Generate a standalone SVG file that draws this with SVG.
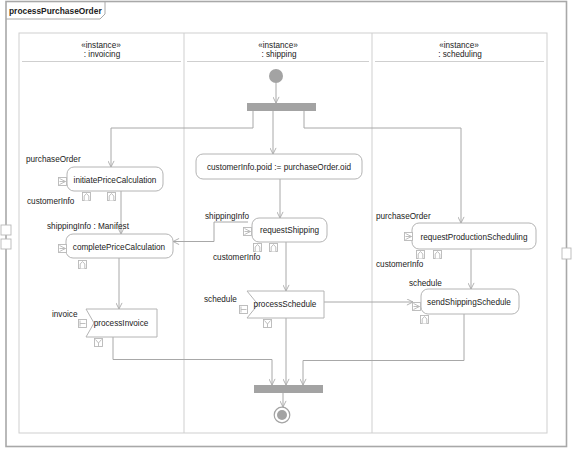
<svg xmlns="http://www.w3.org/2000/svg" xmlns:xlink="http://www.w3.org/1999/xlink" width="572" height="449" viewBox="0 0 572 449">
<style>
text{font-family:"Liberation Sans",Arial,sans-serif;font-size:8.2px;fill:#222}
.c{text-anchor:middle}
.node{fill:#fff;stroke:#b4b4b4;stroke-width:1}
.part{fill:none;stroke:#cfcfcf;stroke-width:1}
.conn{fill:none;stroke:#a8a8a8;stroke-width:1}
.pin{fill:#fff;stroke:#b8b8b8;stroke-width:0.9}
.bar{fill:#a3a3a3}
</style>
<defs>
<marker id="arr" viewBox="0 0 8 8" refX="7.5" refY="4" markerWidth="7" markerHeight="7" markerUnits="userSpaceOnUse" orient="auto">
<path d="M0.5,0.5 L7.5,4 L0.5,7.5" fill="none" stroke="#a8a8a8" stroke-width="1"/>
</marker>
<g id="pinL"><rect class="pin" x="0.5" y="0.5" width="8" height="8"/><path class="pin" fill="none" d="M1.5,1.5 L7.5,4.5 L1.5,7.5 M1.5,4.5 H7.5"/></g>
<g id="pinB"><rect class="pin" x="0.5" y="0.5" width="8" height="8"/><path class="pin" fill="none" d="M2.2,8.5 V4 L4.5,1.5 L6.8,4 V8.5"/></g>
<g id="pinAL"><rect class="pin" x="0.5" y="0.5" width="8" height="8"/><path class="pin" fill="none" d="M2,1.5 V7.5 M2,4.5 H7.5"/></g>
<g id="pinAB"><rect class="pin" x="0.5" y="0.5" width="8" height="8"/><path class="pin" fill="none" d="M1.5,1.5 L4.5,5 L7.5,1.5 M4.5,5 V8.5"/></g>
</defs>
<rect width="572" height="449" fill="#fff"/>

<g id="frame">
<rect x="6" y="1.5" width="560.5" height="445" fill="none" stroke="#a8a8a8" stroke-width="1.6"/>
<path d="M6,19 H100 L105,14 V1.5" fill="none" stroke="#a8a8a8" stroke-width="1"/>
<text x="9" y="14" style="font-weight:bold;font-size:8.4px">processPurchaseOrder</text>
</g>

<g id="partitions">
<rect class="part" x="19" y="33" width="528" height="400"/>
<line class="part" x1="184" y1="33" x2="184" y2="433"/>
<line class="part" x1="372" y1="33" x2="372" y2="433"/>
<line class="part" x1="22" y1="61.5" x2="181" y2="61.5"/>
<line class="part" x1="187" y1="61.5" x2="369" y2="61.5"/>
<line class="part" x1="375" y1="61.5" x2="544" y2="61.5"/>
<text class="c" x="101" y="47.5">«instance»</text>
<text class="c" x="102" y="56.5">: invoicing</text>
<text class="c" x="278" y="47.5">«instance»</text>
<text class="c" x="279" y="56.5">: shipping</text>
<text class="c" x="459" y="47.5">«instance»</text>
<text class="c" x="460" y="56.5">: scheduling</text>
</g>

<g id="param-left-1"><rect class="pin" x="1" y="225" width="10" height="10"/></g>
<g id="param-left-2"><rect class="pin" x="1" y="239" width="10" height="10"/></g>
<g id="param-right"><rect class="pin" x="562" y="248" width="9" height="11"/></g>

<g id="connectors">
<path class="conn" marker-end="url(#arr)" d="M276,83 V103"/>
<path class="conn" marker-end="url(#arr)" d="M253,111 V128 H111 V167"/>
<path class="conn" marker-end="url(#arr)" d="M273,111 V154"/>
<path class="conn" marker-end="url(#arr)" d="M304,111 V128 H461 V223"/>
<path class="conn" marker-end="url(#arr)" d="M121,191 V234"/>
<path class="conn" marker-end="url(#arr)" d="M280,179 V218"/>
<path class="conn" marker-end="url(#arr)" d="M248,222 H214 V241.5 H173"/>
<path class="conn" marker-end="url(#arr)" d="M286,242 V291"/>
<path class="conn" marker-end="url(#arr)" d="M471,249 V289"/>
<path class="conn" marker-end="url(#arr)" d="M324,302 H413"/>
<path class="conn" marker-end="url(#arr)" d="M119,258 V309"/>
<path class="conn" marker-end="url(#arr)" d="M113,337 V359.5 H272 V385"/>
<path class="conn" marker-end="url(#arr)" d="M286,318 V385"/>
<path class="conn" marker-end="url(#arr)" d="M464,314 V360.5 H303 V385"/>
<path class="conn" marker-end="url(#arr)" d="M283,393 V407"/>
</g>

<g id="initial"><circle cx="276" cy="76" r="7" fill="#a3a3a3"/></g>
<g id="fork"><rect class="bar" x="247" y="103" width="69" height="8"/></g>
<g id="join"><rect class="bar" x="254" y="385" width="69" height="8"/></g>
<g id="final"><circle cx="282" cy="415" r="7.8" fill="#fff" stroke="#a3a3a3" stroke-width="1.2"/><circle cx="282" cy="415" r="5" fill="#a3a3a3"/></g>

<g id="initiatePriceCalculation">
<rect class="node" x="67" y="167" width="96" height="24" rx="7"/>
<text class="c" x="115" y="182.5">initiatePriceCalculation</text>
<use href="#pinL" x="58" y="177"/>
<use href="#pinB" x="82" y="192"/>
<use href="#pinB" x="107" y="192"/>
<text x="26" y="162">purchaseOrder</text>
<text x="27" y="204">customerInfo</text>
</g>

<g id="completePriceCalculation">
<rect class="node" x="66" y="234" width="107" height="24" rx="7"/>
<text class="c" x="119" y="249.5">completePriceCalculation</text>
<use href="#pinL" x="58" y="244"/>
<use href="#pinB" x="78" y="260"/>
<text x="47" y="229">shippingInfo : Manifest</text>
</g>

<g id="processInvoice">
<polygon class="node" points="86,309 157,309 157,337 86,337 94,323"/>
<text class="c" x="121" y="325.5">processInvoice</text>
<use href="#pinAL" x="78" y="319"/>
<use href="#pinAB" x="94" y="338"/>
<text x="52" y="317">invoice</text>
</g>

<g id="assignPoid">
<rect class="node" x="196" y="154" width="166" height="25" rx="7"/>
<text class="c" x="279" y="169.5">customerInfo.poid := purchaseOrder.oid</text>
</g>

<g id="requestShipping">
<rect class="node" x="252" y="218" width="75" height="24" rx="7"/>
<text class="c" x="289.5" y="233">requestShipping</text>
<use href="#pinL" x="243" y="227"/>
<use href="#pinB" x="253" y="243"/>
<use href="#pinB" x="269" y="243"/>
<text x="205" y="219">shippingInfo</text>
<text x="213" y="260">customerInfo</text>
</g>

<g id="processSchedule">
<polygon class="node" points="247,291 324,291 324,318 247,318 258,304.5"/>
<text class="c" x="285" y="307">processSchedule</text>
<use href="#pinAL" x="239" y="305"/>
<use href="#pinAB" x="263" y="319"/>
<text x="204" y="302">schedule</text>
</g>

<g id="requestProductionScheduling">
<rect class="node" x="412" y="223" width="124" height="26" rx="7"/>
<text class="c" x="474" y="240">requestProductionScheduling</text>
<use href="#pinL" x="404" y="232"/>
<use href="#pinB" x="416" y="250"/>
<use href="#pinB" x="433" y="250"/>
<text x="376" y="219">purchaseOrder</text>
<text x="376" y="267">customerInfo</text>
</g>

<g id="sendShippingSchedule">
<rect class="node" x="421" y="289" width="98" height="25" rx="7"/>
<text class="c" x="469" y="305">sendShippingSchedule</text>
<use href="#pinL" x="412" y="302"/>
<use href="#pinB" x="420" y="315"/>
<text x="409" y="286">schedule</text>
</g>
</svg>
